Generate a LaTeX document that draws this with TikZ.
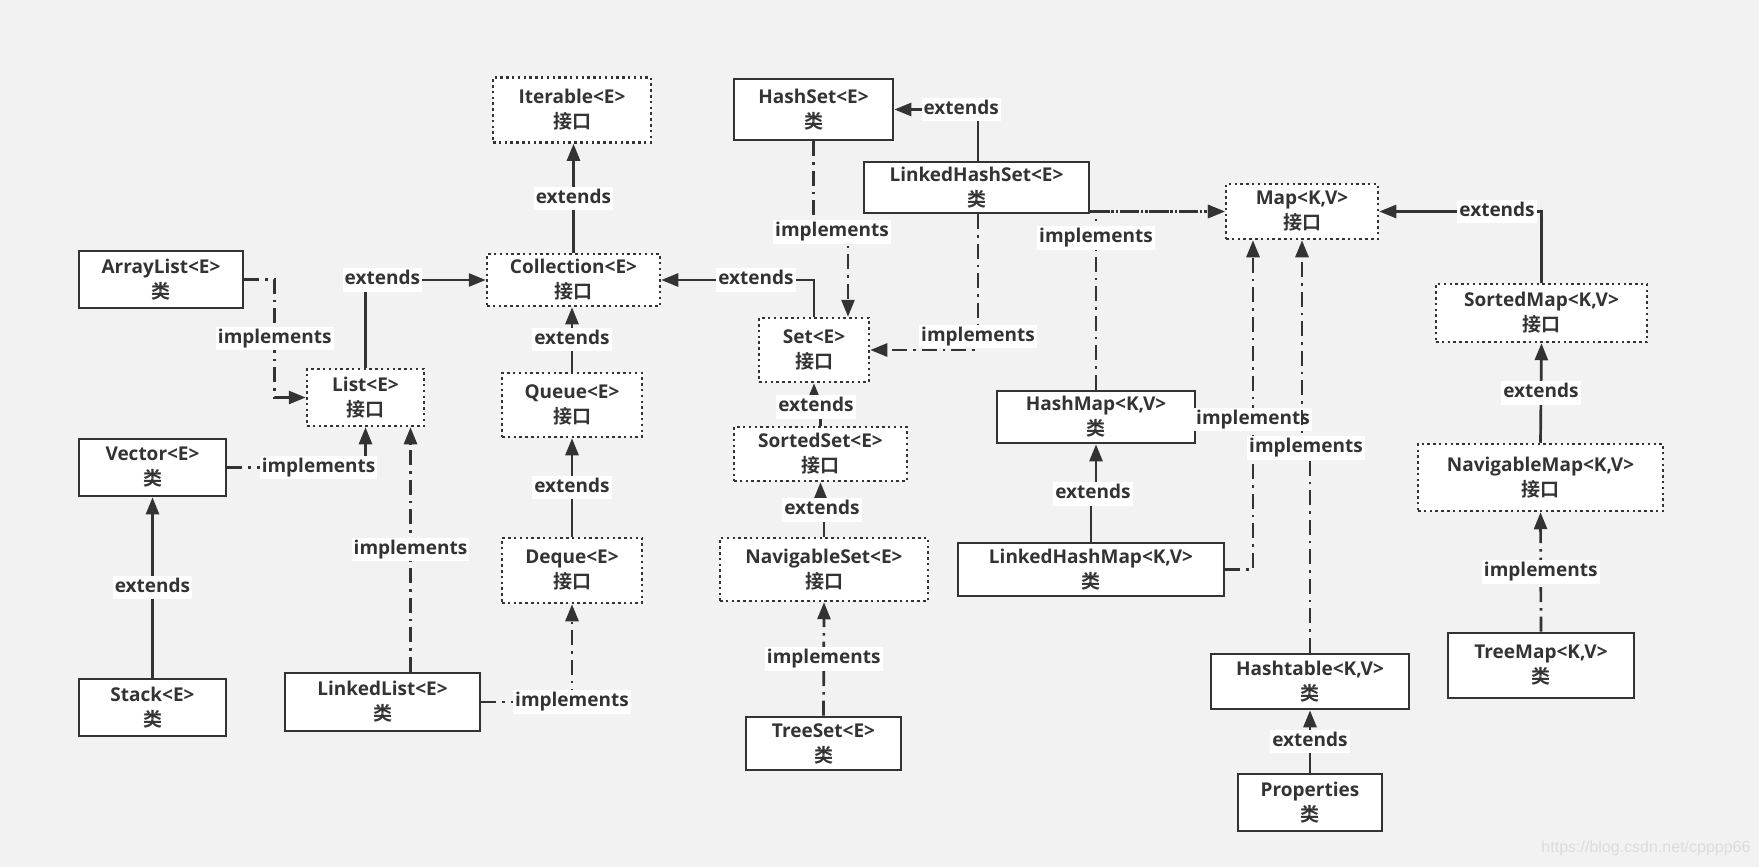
\documentclass[tikz,border=0pt]{standalone}
\usepackage{fontspec}
\setmainfont{Open Sans}
\newfontfamily\cjk{Noto Sans CJK SC}[BoldFont={Noto Sans CJK SC Bold}]
\newfontfamily\wmfont{Liberation Sans}
\usetikzlibrary{arrows.meta}
\definecolor{bg}{HTML}{F2F2F2}
\definecolor{ink}{HTML}{333333}
\definecolor{wmc}{HTML}{DCDCDC}
\tikzset{
  base/.style={fill=white, text=ink, align=center, inner sep=0pt,
    font=\bfseries\fontsize{19}{25}\selectfont},
  cls/.style={base, draw=ink, line width=2.7pt},
  intf/.style={base, draw=ink, line width=2.5pt, dash pattern=on 2.5pt off 3.3pt},
  sz/.style 2 args={minimum width=#1pt, minimum height=#2pt},
  lbl/.style={fill=white, text=ink, font=\bfseries\fontsize{19}{22}\selectfont,
    inner xsep=2pt, inner ysep=2.5pt, text height=14pt, text depth=4.5pt},
  ext/.style={draw=ink, line width=2.7pt, -{Triangle[length=17pt,width=13pt]}},
  impl/.style={ext, dash pattern=on 15pt off 6pt on 2.5pt off 6pt},
}
\begin{document}
\begin{tikzpicture}[x=1pt,y=-1pt]
\fill[bg] (0,0) rectangle (1759,867);
\useasboundingbox (0,0) rectangle (1759,867);

% nodes
\node[intf, sz={158}{65}] (iter) at (572,110) {Iterable<E>\\{\cjk\bfseries 接口}};
\node[intf, sz={173}{52}] (coll) at (573.5,280) {Collection<E>\\{\cjk\bfseries 接口}};
\node[cls, sz={164}{57}] (arr) at (161,279.5) {ArrayList<E>\\{\cjk\bfseries 类}};
\node[intf, sz={117}{57}] (list) at (365.5,397.5) {List<E>\\{\cjk\bfseries 接口}};
\node[intf, sz={140}{64}] (queue) at (572,405) {Queue<E>\\{\cjk\bfseries 接口}};
\node[cls, sz={147}{57}] (vec) at (152.5,467.5) {Vector<E>\\{\cjk\bfseries 类}};
\node[cls, sz={147}{57}] (stack) at (152.5,707.5) {Stack<E>\\{\cjk\bfseries 类}};
\node[cls, sz={195}{58}] (llist) at (382.5,702) {LinkedList<E>\\{\cjk\bfseries 类}};
\node[intf, sz={140}{65}] (deque) at (572,570.5) {Deque<E>\\{\cjk\bfseries 接口}};
\node[cls, sz={159}{61}] (hset) at (813.5,109.5) {HashSet<E>\\{\cjk\bfseries 类}};
\node[cls, sz={225}{51}] (lhset) at (976.5,187.5) {LinkedHashSet<E>\\{\cjk\bfseries 类}};
\node[intf, sz={110}{64}] (set) at (814,350) {Set<E>\\{\cjk\bfseries 接口}};
\node[intf, sz={173}{54}] (sset) at (820.5,454) {SortedSet<E>\\{\cjk\bfseries 接口}};
\node[intf, sz={208}{63}] (nset) at (824,569.5) {NavigableSet<E>\\{\cjk\bfseries 接口}};
\node[cls, sz={155}{53}] (tset) at (823.5,743.5) {TreeSet<E>\\{\cjk\bfseries 类}};
\node[cls, sz={198}{52}] (hmap) at (1096,417) {HashMap<K,V>\\{\cjk\bfseries 类}};
\node[cls, sz={266}{53}] (lhmap) at (1091,569.5) {LinkedHashMap<K,V>\\{\cjk\bfseries 类}};
\node[intf, sz={152}{55}] (map) at (1302,211.5) {Map<K,V>\\{\cjk\bfseries 接口}};
\node[intf, sz={211}{58}] (smap) at (1541.5,313) {SortedMap<K,V>\\{\cjk\bfseries 接口}};
\node[intf, sz={245}{67}] (nmap) at (1540.5,477.5) {NavigableMap<K,V>\\{\cjk\bfseries 接口}};
\node[cls, sz={186}{65}] (tmap) at (1541,665.5) {TreeMap<K,V>\\{\cjk\bfseries 类}};
\node[cls, sz={198}{55}] (htab) at (1310,681.5) {Hashtable<K,V>\\{\cjk\bfseries 类}};
\node[cls, sz={144}{57}] (prop) at (1310,802.5) {Properties\\{\cjk\bfseries 类}};

% connectors
\draw[ext] (coll.north) -- node[lbl] (l1) {extends} (coll.north |- iter.south);
\draw[ext] (list.north) |- node[lbl,pos=0.57] (l2) {extends} (coll.west);
\draw[impl] (arr.east) -| node[lbl,pos=0.75] (l3) {implements} ([xshift=-31pt]list.west) -- (list.west);
\draw[impl] (vec.east) -| node[lbl,pos=0.33] (l4) {implements} (list.south);
\draw[impl] ([xshift=28pt]llist.north) -- node[lbl] (l5) {implements} ([xshift=45pt]list.south);
\draw[impl] (llist.east) -| node[lbl,pos=0.5] (l6) {implements} (deque.south);
\draw[ext] (queue.north) -- node[lbl] (l7) {extends} (queue.north |- coll.south);
\draw[ext] (deque.north) -- node[lbl] (l8) {extends} (queue.south);
\draw[ext] (stack.north) -- node[lbl] (l9) {extends} (vec.south);
\draw[ext] (set.north) |- node[lbl,pos=0.69] (l10) {extends} (coll.east);
\draw[ext] ([xshift=1.5pt]lhset.north) |- node[lbl,pos=0.6] (l11) {extends} (hset.east);
\draw[impl] (hset.south) |- (832,232) node[lbl] (l12) {implements} -| ([xshift=34pt]set.north);
\draw[impl] ([xshift=1.5pt]lhset.south) |- node[lbl,pos=0.45] (l13) {implements} (set.east);
\draw[impl] (lhset.east |- map.west) -- (map.west);
\draw[impl] (hmap.north) |- node[lbl,pos=0.425] (l14) {implements} (map.west);
\draw[ext] (lhmap.north) |- (1093,494) node[lbl] (l15) {extends} -| (hmap.south);
\draw[impl] (lhmap.east) -| node[lbl,pos=0.728] (l16) {implements} ([xshift=-49pt]map.south);
\draw[impl] (htab.north) |- (1306,448) node[lbl] (l17) {implements} -| (map.south);
\draw[ext] (smap.north) |- node[lbl,pos=0.637] (l18) {extends} (map.east);
\draw[ext] (nmap.north) -- node[lbl] (l19) {extends} (smap.south);
\draw[impl] (tmap.north) -- node[lbl] (l20) {implements} (nmap.south);
\draw[ext] (prop.north) -- node[lbl] (l21) {extends} (htab.south);
\draw[impl] (tset.north) -- node[lbl] (l22) {implements} (nset.south);
\draw[ext] (nset.north) |- (822,510) node[lbl] (l23) {extends} -| (sset.south);
\draw[ext] (sset.north) |- (816,407) node[lbl] (l24) {extends} -| (set.south);

% watermark
\node[font=\wmfont\fontsize{16}{16}\selectfont, text=wmc] (wm) at (1646,848) {https://blog.csdn.net/cpppp66};
\end{tikzpicture}
\end{document}
